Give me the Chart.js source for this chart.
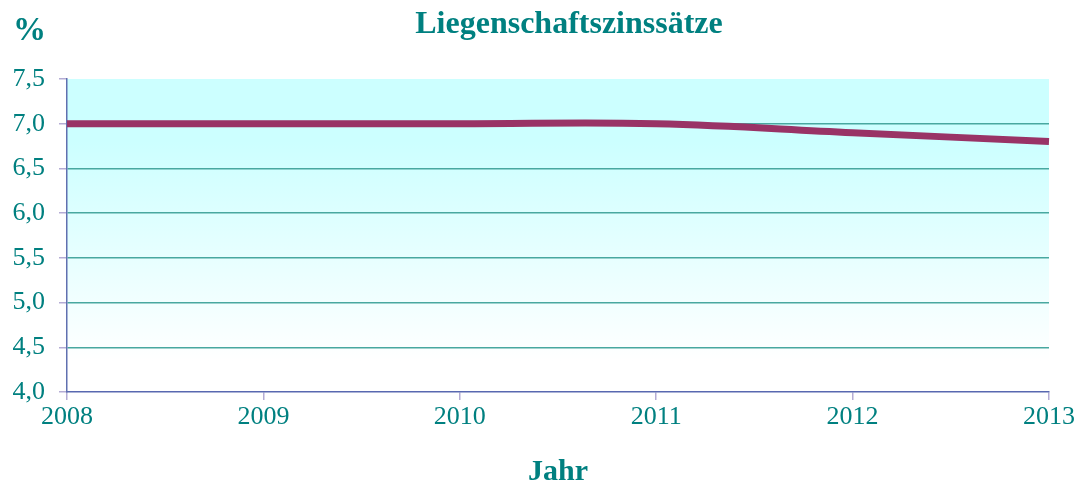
<!DOCTYPE html>
<html>
<head>
<meta charset="utf-8">
<script src="https://cdn.jsdelivr.net/npm/chart.js@4"></script>
<style>
  html, body { margin: 0; padding: 0; background: #fff; }
  #wrap { width: 1077px; height: 483px; }
</style>
</head>
<body>
<div id="wrap"><canvas id="rateChart" width="1077" height="483"></canvas></div>
<script>
const years = ["2008", "2009", "2010", "2011", "2012", "2013"];
const rates = [7.0, 7.0, 7.0, 7.0, 6.9, 6.8];
const yTicks = [4.0, 4.5, 5.0, 5.5, 6.0, 6.5, 7.0, 7.5];

const TEAL = "#008080";
const SERIF = "'Liberation Serif', 'Times New Roman', serif";

// cyan-to-white fill behind the plot
const plotBackground = {
  id: "plotBackground",
  beforeDraw(chart) {
    const { ctx, chartArea: a } = chart;
    const g = ctx.createLinearGradient(0, a.top, 0, a.bottom);
    g.addColorStop(0, "#ccffff");
    g.addColorStop(0.2, "#ccffff");
    g.addColorStop(0.9, "#ffffff");
    g.addColorStop(1, "#ffffff");
    ctx.save();
    ctx.fillStyle = g;
    ctx.fillRect(a.left, a.top, a.right - a.left, a.bottom - a.top);
    ctx.restore();
  }
};

// heading and unit label
const headings = {
  id: "headings",
  afterDraw(chart) {
    const { ctx } = chart;
    ctx.save();
    ctx.fillStyle = TEAL;
    ctx.textBaseline = "middle";
    ctx.font = "bold 33px " + SERIF;
    ctx.textAlign = "left";
    ctx.fillText("%", 13, 31);
    ctx.font = "bold 32px " + SERIF;
    ctx.textAlign = "center";
    ctx.fillText("Liegenschaftszinssätze", 569, 25);
    ctx.restore();
  }
};

new Chart(document.getElementById("rateChart"), {
  type: "line",
  data: {
    labels: years,
    datasets: [{
      data: rates,
      borderColor: "#993366",
      borderWidth: 7,
      pointRadius: 0,
      tension: 0.4,
      fill: false
    }]
  },
  options: {
    responsive: false,
    animation: false,
    layout: { padding: { top: 79, right: 28, bottom: 0, left: 0 } },
    plugins: {
      legend: { display: false },
      tooltip: { enabled: false }
    },
    scales: {
      x: {
        offset: false,
        afterFit(s) { s.height = 91; },
        grid: {
          color: "rgba(0,0,0,0)",
          tickColor: "#b4acd4",
          tickLength: 8,
          lineWidth: 1.5
        },
        border: { color: "#5868b0", width: 1.5 },
        ticks: {
          color: TEAL,
          font: { family: SERIF, size: 26 },
          padding: 2,
          maxRotation: 0
        },
        title: {
          display: true,
          text: "Jahr",
          color: TEAL,
          font: { family: SERIF, size: 30, weight: "bold", lineHeight: 0.75 },
          padding: { top: 0, bottom: 0 }
        }
      },
      y: {
        min: 4.0,
        max: 7.5,
        afterFit(s) { s.width = 67; },
        afterBuildTicks(s) { s.ticks = yTicks.map(v => ({ value: v })); },
        grid: {
          color: ctx => (ctx.tick && (ctx.tick.value === 7.5 || ctx.tick.value === 4.0)) ? "rgba(0,0,0,0)" : "#48a8a0",
          tickColor: "#b4acd4",
          tickLength: 8,
          lineWidth: 1.5
        },
        border: { color: "#6070b0", width: 1.5 },
        ticks: {
          color: TEAL,
          font: { family: SERIF, size: 26 },
          padding: 14,
          callback: v => v.toFixed(1).replace(".", ",")
        }
      }
    }
  },
  plugins: [plotBackground, headings]
});
</script>
</body>
</html>
